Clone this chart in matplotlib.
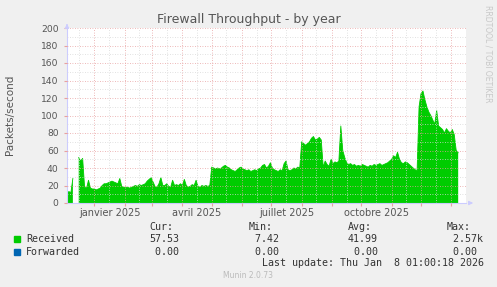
import numpy as np
import matplotlib
matplotlib.use("Agg")
import matplotlib.pyplot as plt
import datetime as dt

# ---- data (values read every 2 days, starting 2024-12-04) ----
start_date = "2024-12-04"
step_days = 2
received = [
    12, 13, 12, 28, np.nan, np.nan, 52, 48, 51, 18,
    17, 26, 17, 16, 16, 15, 16, 17, 20, 22,
    22, 23, 24, 25, 24, 23, 22, 28, 19, 18,
    18, 18, 17, 18, 19, 20, 19, 21, 20, 21,
    22, 25, 27, 29, 24, 19, 18, 22, 29, 20,
    20, 22, 19, 18, 26, 20, 21, 20, 22, 20,
    27, 20, 18, 19, 21, 20, 26, 19, 18, 20,
    19, 20, 19, 20, 41, 40, 39, 40, 39, 40,
    42, 43, 41, 40, 38, 37, 36, 38, 40, 41,
    39, 38, 37, 38, 36, 37, 38, 37, 39, 40,
    43, 44, 40, 42, 46, 40, 38, 37, 36, 38,
    37, 45, 48, 38, 37, 38, 40, 39, 41, 40,
    70, 68, 66, 68, 70, 74, 76, 72, 73, 75,
    72, 41, 48, 44, 42, 50, 45, 47, 46, 48,
    88, 60, 52, 46, 44, 45, 43, 44, 42, 43,
    42, 44, 43, 42, 41, 43, 42, 44, 43, 44,
    45, 43, 44, 45, 46, 48, 50, 54, 52, 58,
    50, 46, 45, 47, 46, 44, 42, 40, 38, 37,
    110, 125, 128, 118, 110, 104, 100, 95, 90, 106,
    88, 86, 84, 80, 85, 82, 80, 84, 78, 60,
    57.5,
]

month_ticks = ["2025-01-01", "2025-04-01", "2025-07-01", "2025-10-01"]
month_labels = ["janvier 2025", "avril 2025", "juillet 2025", "octobre 2025"]
y_ticks = [0, 20, 40, 60, 80, 100, 120, 140, 160, 180, 200]

legend_names = ["Received", "Forwarded"]
legend_colors = ["#00CC00", "#0066B3"]
cur_vals = ["57.53", " 0.00"]
min_vals = [" 7.42", " 0.00"]
avg_vals = ["41.99", " 0.00"]
max_vals = [" 2.57k", " 0.00"]

# ---- figure ----
W, H = 497, 287
fig = plt.figure(figsize=(W / 100, H / 100), dpi=100, facecolor="#F0F0F0")
L, R, T, B = 67, 466, 28, 203
ax = fig.add_axes([L / W, 1 - B / H, (R - L) / W, (B - T) / H])
ax.set_facecolor("white")

t0 = np.datetime64(start_date)
dates = t0 + np.arange(len(received)) * np.timedelta64(step_days, "D")
dates = dates.astype("datetime64[s]").astype(dt.datetime)
vals = np.array(received, dtype=float)

ax.fill_between(dates, 0, vals, color="#00CC00", linewidth=0)
ax.plot(dates, vals, color="#00CC00", linewidth=0.6)

ax.set_xlim(dt.datetime(2024, 12, 4), dt.datetime(2026, 1, 8, 1))
ax.set_ylim(0, 200)

# grids
major_months = [dt.datetime(2024 + (m // 12), m % 12 + 1, 1) for m in range(12, 25)]
minor_days = [dt.datetime(2024 + (m // 12), m % 12 + 1, 16) for m in range(11, 25)]
ax.set_xticks(major_months)
ax.set_xticks(minor_days, minor=True)
ax.set_xticklabels([])
ax.set_yticks(y_ticks)
ax.set_yticks(list(range(10, 200, 20)), minor=True)
ax.grid(which="minor", color="#D8D8D8", linestyle=(0, (1, 2)), linewidth=0.6)
ax.grid(which="major", color="#E8A0A0", linestyle=(0, (1, 2)), linewidth=0.6)
ax.set_axisbelow(False)
ax.set_yticklabels([str(v) for v in y_ticks], fontsize=6.6, color="#555555")
ax.tick_params(axis="both", which="major", length=2, color="#E8A0A0", pad=4)
ax.tick_params(axis="both", which="minor", length=0)

# month labels centred in month
for mt, lab in zip(month_ticks, month_labels):
    d0 = dt.datetime.fromisoformat(mt)
    d1 = (d0 + dt.timedelta(days=32)).replace(day=1)
    mid = d0 + (d1 - d0) / 2
    ax.text(mid, -6, lab, ha="center", va="top", fontsize=7, color="#555555")

for s in ["top", "right"]:
    ax.spines[s].set_visible(False)
for s in ["left", "bottom"]:
    ax.spines[s].set_color("#CCCCFF")
    ax.spines[s].set_linewidth(0.8)
# arrows
ax.annotate("", xy=(0, 1.04), xytext=(0, 1.0), xycoords="axes fraction",
            arrowprops=dict(arrowstyle="-|>", color="#CCCCFF", lw=0.8, mutation_scale=6),
            annotation_clip=False)
ax.annotate("", xy=(1.025, 0), xytext=(1.0, 0), xycoords="axes fraction",
            arrowprops=dict(arrowstyle="-|>", color="#CCCCFF", lw=0.8, mutation_scale=6),
            annotation_clip=False)

def fx(px):
    return px / W

def fy(py):
    return 1 - py / H

fig.text(fx(248.5), fy(19), "Firewall Throughput - by year", ha="center", va="center",
         fontsize=9, color="#555555")
fig.text(fx(10), fy(115), "Packets/second", rotation=90, ha="center", va="center",
         fontsize=7.5, color="#555555")
fig.text(fx(488), fy(5), "RRDTOOL / TOBI OETIKER", rotation=270, ha="center", va="top",
         fontsize=5.5, color="#C8C8C8")

mono = dict(family="DejaVu Sans Mono", fontsize=7.2, color="#333333", va="center", ha="left")
row_y = [239.3, 251.7]
hdr_y = 227.3
col_x = [149, 249, 348, 447]
for x, h in zip(col_x, ["Cur:", "Min:", "Avg:", "Max:"]):
    fig.text(fx(x), fy(hdr_y), h, **mono)
for i, name in enumerate(legend_names):
    y = row_y[i]
    fig.patches.append(plt.Rectangle((fx(14), fy(y + 3)), 6 / W, 6 / H,
                                     transform=fig.transFigure, color=legend_colors[i]))
    fig.text(fx(26), fy(y), name, **mono)
    for x, v in zip(col_x, [cur_vals[i], min_vals[i], avg_vals[i], max_vals[i]]):
        fig.text(fx(x), fy(y), v, **mono)
fig.text(fx(262), fy(263.3), "Last update: Thu Jan  8 01:00:18 2026", **mono)
fig.text(fx(248), fy(276), "Munin 2.0.73", ha="center", va="center", fontsize=5.5,
         color="#BBBBBB")

fig.savefig("out.png", dpi=100, facecolor=fig.get_facecolor())
